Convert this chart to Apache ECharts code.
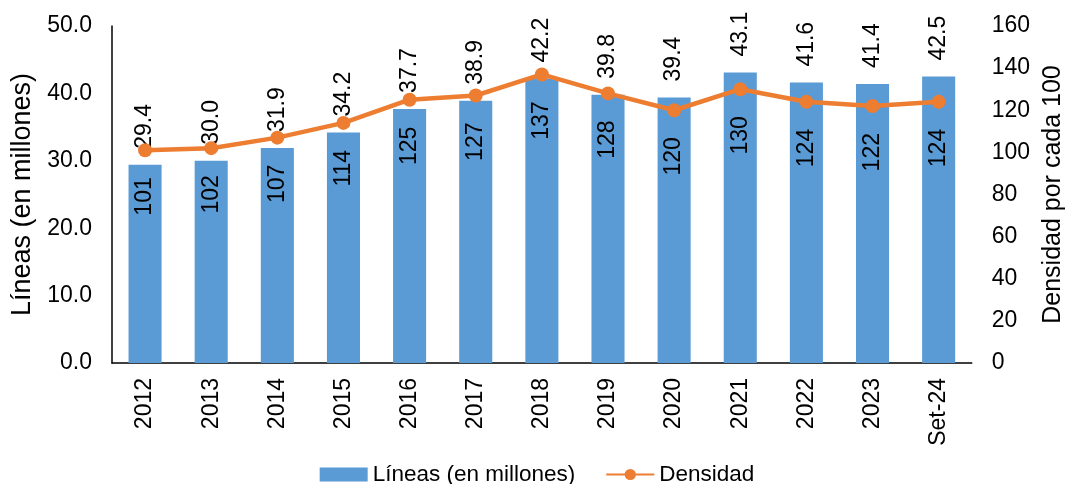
<!DOCTYPE html>
<html>
<head>
<meta charset="utf-8">
<script src="https://cdn.jsdelivr.net/npm/echarts@6/dist/echarts.min.js"></script>
<style>
  html, body { margin: 0; padding: 0; background: #fff; }
  #chart { width: 1074px; height: 484px; }
</style>
</head>
<body>
<div id="chart"></div>
<script>
var years = ['2012', '2013', '2014', '2015', '2016', '2017', '2018', '2019', '2020', '2021', '2022', '2023', 'Set-24'];
var lineas = [29.4, 30.0, 31.9, 34.2, 37.7, 38.9, 42.2, 39.8, 39.4, 43.1, 41.6, 41.4, 42.5];
var densidad = [101, 102, 107, 114, 125, 127, 137, 128, 120, 130, 124, 122, 124];

var font = 'Liberation Sans, Arial, sans-serif';
var chart = echarts.init(document.getElementById('chart'));

var option = {
  animation: false,
  textStyle: { fontFamily: font, color: '#000' },
  legend: {
    top: 458,
    left: 'center',
    itemGap: 30,
    itemWidth: 48,
    itemHeight: 14,
    textStyle: { fontSize: 22.5, color: '#000', fontFamily: font },
    data: [
      { name: 'Líneas (en millones)', icon: 'rect' },
      { name: 'Densidad' }
    ]
  },
  grid: { left: 112, right: 99, top: 26, bottom: 121 },
  xAxis: {
    type: 'category',
    data: years,
    axisLine: { lineStyle: { color: '#000', width: 1.5 } },
    axisTick: { show: false },
    axisLabel: { rotate: 90, fontSize: 23, color: '#000', margin: 15, fontFamily: font }
  },
  yAxis: [
    {
      type: 'value',
      min: 0, max: 50, interval: 10,
      name: 'Líneas (en millones)',
      nameLocation: 'middle',
      nameGap: 74,
      nameTextStyle: { fontSize: 27, color: '#000', fontFamily: font },
      axisLine: { show: true, lineStyle: { color: '#000', width: 1.5 } },
      axisTick: { show: false },
      splitLine: { show: false },
      axisLabel: {
        fontSize: 23, color: '#000', margin: 20, fontFamily: font,
        formatter: function (v) { return v.toFixed(1); }
      }
    },
    {
      type: 'value',
      min: 0, max: 160, interval: 20,
      name: 'Densidad por cada 100',
      nameLocation: 'middle',
      nameGap: 68,
      nameRotate: 90,
      nameTextStyle: { fontSize: 25, color: '#000', fontFamily: font },
      axisLine: { show: false },
      axisTick: { show: false },
      splitLine: { show: false },
      axisLabel: { fontSize: 23, color: '#000', margin: 20, fontFamily: font }
    }
  ],
  series: [
    {
      name: 'Líneas (en millones)',
      type: 'bar',
      data: lineas,
      barWidth: '50%',
      itemStyle: { color: '#5B9BD5' },
      label: {
        show: true,
        position: 'top',
        rotate: 90,
        align: 'left',
        verticalAlign: 'middle',
        distance: 16,
        fontSize: 23,
        color: '#000',
        fontFamily: font,
        formatter: function (p) { return p.value.toFixed(1); }
      },
      z: 2
    },
    {
      name: 'Densidad',
      type: 'line',
      yAxisIndex: 1,
      data: densidad,
      symbol: 'circle',
      symbolSize: 14,
      lineStyle: { color: '#ED7D31', width: 4.5 },
      itemStyle: { color: '#ED7D31' },
      label: {
        show: true,
        position: 'bottom',
        rotate: 90,
        align: 'right',
        verticalAlign: 'middle',
        distance: 20,
        fontSize: 23,
        color: '#000',
        fontFamily: font
      },
      z: 3
    }
  ]
};

chart.setOption(option);
</script>
</body>
</html>
